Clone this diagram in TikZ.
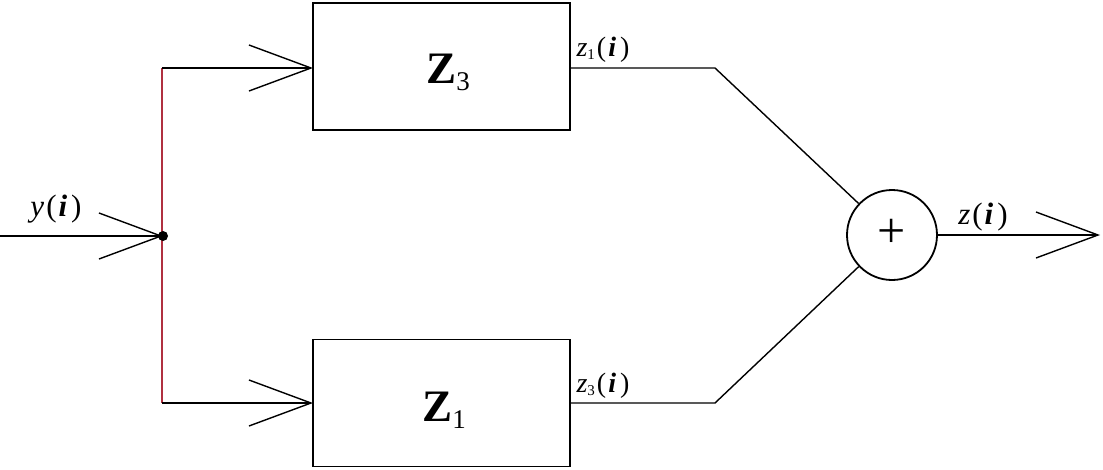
\documentclass[tikz,border=0pt]{standalone}
\usepackage{fontspec}
\setmainfont{Liberation Serif}
\usetikzlibrary{arrows.meta}
\definecolor{junctionred}{HTML}{B03040}
\tikzset{
  wire/.style={line width=1.4pt, black},
  openarrow/.style={wire, -{Straight Barb[length=62pt,width=46pt,line width=1.4pt]}},
  block/.style={draw, line width=1.8pt, minimum width=257pt, minimum height=127pt, inner sep=0pt},
  blocklabel/.style={font=\fontsize{45}{45}\selectfont, inner sep=0pt},
  sig/.style={font=\fontsize{31}{31}\selectfont, inner sep=0pt},
  sigsmall/.style={font=\fontsize{28}{28}\selectfont, inner sep=0pt},
  sumnode/.style={draw, circle, line width=1.8pt, minimum size=90pt, inner sep=0pt, font=\fontsize{50}{50}\selectfont}
}
\newcommand{\blk}[1]{\textbf{Z}\raisebox{-7pt}{\fontsize{27}{27}\selectfont #1}}
\newcommand{\sgl}[2]{\textit{#1}\kern2pt#2(\kern2pt\textbf{\textit{i}}\kern4pt)}
\newcommand{\subidx}[1]{\raisebox{-3pt}{\fontsize{15}{15}\selectfont #1}\kern2pt}
\begin{document}
\begin{tikzpicture}[x=1pt,y=-1pt]
\useasboundingbox (0,0) rectangle (1103,469);
% blocks
\node[block] (top) at (441.5,66.5) {};
\node[block] (bot) at (441.5,403) {};
\node[blocklabel] (topl) at (448,72) {\blk{3}};
\node[blocklabel] (botl) at (444,410) {\blk{1}};
% summing junction
\node[sumnode] (sum) at (892,235) {\raisebox{4pt}{+}};
% coordinates
\coordinate (in) at (0,236);
\coordinate (junc) at (163,236);
\coordinate (jt) at (162,68);
\coordinate (jb) at (162,403);
\coordinate (ttarget) at (313,68);
\coordinate (btarget) at (313,403);
\coordinate (tout) at (570,68);
\coordinate (bout) at (570,403);
\coordinate (tcorner) at (715,68);
\coordinate (bcorner) at (715,403);
\coordinate (outend) at (1100,235);
% wires
\draw[openarrow] (in) -- (junc);
\draw[line width=1.4pt, junctionred] (jt) -- (jb);
\draw[openarrow] (jt) -- (ttarget);
\draw[openarrow] (jb) -- (btarget);
\fill (junc) circle (5pt);
\draw[wire] (tout) -- (tcorner) -- (sum);
\draw[wire] (bout) -- (bcorner) -- (sum);
\draw[openarrow] (sum.east) -- (outend);
% labels
\node[sig] (ylab) at (56,209) {\sgl{y}{}};
\node[sig] (zlab) at (983,217) {\sgl{z}{}};
\node[sigsmall] (z1lab) at (603,50) {\sgl{z}{\kern-2pt\subidx{1}}};
\node[sigsmall] (z3lab) at (603,386) {\sgl{z}{\kern-2pt\subidx{3}}};
\end{tikzpicture}
\end{document}
